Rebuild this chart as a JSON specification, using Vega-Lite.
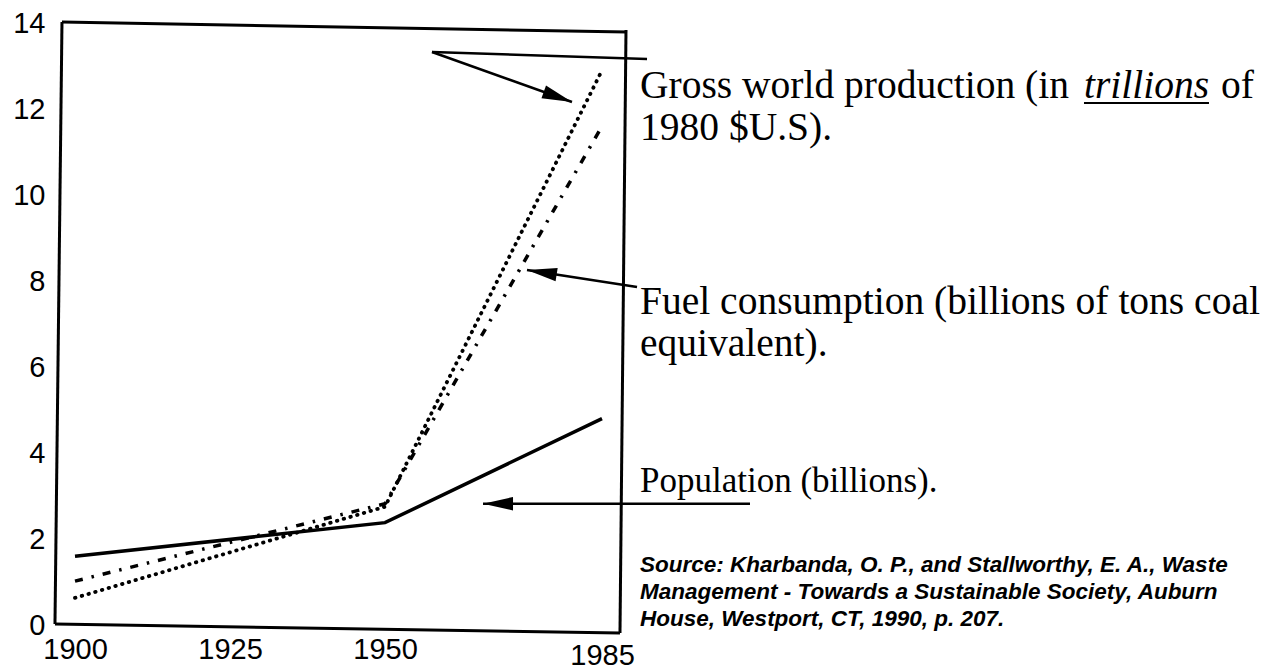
{
  "$schema": "https://vega.github.io/schema/vega-lite/v6.json",
  "width": 565,
  "height": 602,
  "autosize": {"type": "none"},
  "padding": {"left": 55, "top": 23, "right": 655, "bottom": 47},
  "background": "white",
  "config": {
    "view": {"stroke": null},
    "axis": {"grid": false, "domain": false, "ticks": false, "title": null, "labelColor": "black", "labelFont": "Liberation Sans", "labelFontSize": 29, "labelFlush": false, "labelOverlap": false}
  },
  "datasets": {
    "series": [
      {"series": "Population", "year": 1900, "value": 1.6},
      {"series": "Population", "year": 1950, "value": 2.38},
      {"series": "Population", "year": 1985, "value": 4.8},
      {"series": "Fuel", "year": 1900, "value": 1.02},
      {"series": "Fuel", "year": 1950, "value": 2.82},
      {"series": "Fuel", "year": 1985, "value": 11.6},
      {"series": "Gross", "year": 1900, "value": 0.63},
      {"series": "Gross", "year": 1950, "value": 2.75},
      {"series": "Gross", "year": 1985, "value": 12.9}
    ],
    "frame": [
      {"x": 1897.90, "y": 14.023, "x2": 1989.03, "y2": 13.791},
      {"x": 1988.87, "y": 13.837, "x2": 1987.90, "y2": -0.186},
      {"x": 1896.77, "y": 0.023, "x2": 1987.90, "y2": -0.186},
      {"x": 1897.90, "y": 14.023, "x2": 1896.77, "y2": 0.023}
    ],
    "arrows": [
      {"name": "gross_bar", "x": 1957.58, "y": 13.326, "x2": 1992.26, "y2": 13.163},
      {"name": "gross", "x": 1957.58, "y": 13.326, "x2": 1980.16, "y2": 12.163},
      {"name": "fuel", "x": 1990.65, "y": 7.860, "x2": 1972.90, "y2": 8.256},
      {"name": "population", "x": 2008.87, "y": 2.82, "x2": 1965.81, "y2": 2.82}
    ],
    "labels": [
      {"role": "big", "x": 1991.13, "y": 12.256, "text": "Gross world production (in"},
      {"role": "big", "x": 2084.84, "y": 12.256, "text": "of"},
      {"role": "big", "x": 1991.13, "y": 11.28, "text": "1980 $U.S)."},
      {"role": "big", "x": 1991.13, "y": 7.233, "text": "Fuel consumption (billions of tons coal"},
      {"role": "big", "x": 1991.13, "y": 6.256, "text": "equivalent)."},
      {"role": "pop", "x": 1991.13, "y": 3.093, "text": "Population (billions)."},
      {"role": "ital", "x": 2062.74, "y": 12.256, "text": "trillions"},
      {"role": "source", "x": 1991.13, "y": 1.233, "text": "Source: Kharbanda, O. P., and Stallworthy, E. A., Waste"},
      {"role": "source", "x": 1991.13, "y": 0.605, "text": "Management - Towards a Sustainable Society, Auburn"},
      {"role": "source", "x": 1991.13, "y": -0.023, "text": "House, Westport, CT, 1990, p. 207."}
    ],
    "underline": [
      {"x": 2062.74, "y": 12.14, "x2": 2082.9, "y2": 12.14}
    ]
  },
  "layer": [
    {
      "data": {"name": "series"},
      "transform": [{"filter": "datum.series == 'Population'"}],
      "mark": {"type": "line", "color": "black", "strokeWidth": 3.5},
      "encoding": {
        "x": {"field": "year", "type": "quantitative", "scale": {"domain": [1896.774, 1987.903], "nice": false, "zero": false},
          "axis": {"values": [1900, 1925, 1950, 1985], "format": "d", "labelPadding": {"condition": {"test": "datum.value == 1985", "value": 16}, "value": 10}}},
        "y": {"field": "value", "type": "quantitative", "scale": {"domain": [0, 14], "nice": false, "zero": false},
          "axis": {"values": [0, 2, 4, 6, 8, 10, 12, 14], "labelPadding": 10}}
      }
    },
    {
      "data": {"name": "series"},
      "transform": [{"filter": "datum.series == 'Fuel'"}],
      "mark": {"type": "line", "color": "black", "strokeWidth": 3.5, "strokeDash": [8, 9, 2.5, 9]},
      "encoding": {
        "x": {"field": "year", "type": "quantitative", "scale": {"domain": [1896.774, 1987.903], "nice": false, "zero": false}},
        "y": {"field": "value", "type": "quantitative", "scale": {"domain": [0, 14], "nice": false, "zero": false}}
      }
    },
    {
      "data": {"name": "series"},
      "transform": [{"filter": "datum.series == 'Gross'"}],
      "mark": {"type": "line", "color": "black", "strokeWidth": 3.8, "strokeDash": [0.5, 6.5], "strokeCap": "round"},
      "encoding": {
        "x": {"field": "year", "type": "quantitative", "scale": {"domain": [1896.774, 1987.903], "nice": false, "zero": false}},
        "y": {"field": "value", "type": "quantitative", "scale": {"domain": [0, 14], "nice": false, "zero": false}}
      }
    },
    {
      "data": {"name": "frame"},
      "mark": {"type": "rule", "color": "black", "strokeWidth": 3},
      "encoding": {
        "x": {"field": "x", "type": "quantitative", "scale": {"domain": [1896.774, 1987.903], "nice": false, "zero": false}},
        "y": {"field": "y", "type": "quantitative", "scale": {"domain": [0, 14], "nice": false, "zero": false}},
        "x2": {"field": "x2"},
        "y2": {"field": "y2"}
      }
    },
    {
      "data": {"name": "arrows"},
      "mark": {"type": "rule", "color": "black", "strokeWidth": 2.5},
      "encoding": {
        "x": {"field": "x", "type": "quantitative", "scale": {"domain": [1896.774, 1987.903], "nice": false, "zero": false}},
        "y": {"field": "y", "type": "quantitative", "scale": {"domain": [0, 14], "nice": false, "zero": false}},
        "x2": {"field": "x2"},
        "y2": {"field": "y2"}
      }
    },
    {
      "data": {"name": "underline"},
      "mark": {"type": "rule", "color": "black", "strokeWidth": 2},
      "encoding": {
        "x": {"field": "x", "type": "quantitative", "scale": {"domain": [1896.774, 1987.903], "nice": false, "zero": false}},
        "y": {"field": "y", "type": "quantitative", "scale": {"domain": [0, 14], "nice": false, "zero": false}},
        "x2": {"field": "x2"},
        "y2": {"field": "y2"}
      }
    },
    {
      "data": {"name": "arrows"},
      "transform": [{"filter": "datum.name == 'gross'"}],
      "mark": {"type": "point", "shape": "M0,0L-2,-0.45L-2,0.45Z", "size": 900, "filled": true, "color": "black", "opacity": 1, "angle": 19.65},
      "encoding": {
        "x": {"field": "x2", "type": "quantitative", "scale": {"domain": [1896.774, 1987.903], "nice": false, "zero": false}},
        "y": {"field": "y2", "type": "quantitative", "scale": {"domain": [0, 14], "nice": false, "zero": false}}
      }
    },
    {
      "data": {"name": "arrows"},
      "transform": [{"filter": "datum.name == 'fuel'"}],
      "mark": {"type": "point", "shape": "M0,0L-2,-0.45L-2,0.45Z", "size": 900, "filled": true, "color": "black", "opacity": 1, "angle": 188.8},
      "encoding": {
        "x": {"field": "x2", "type": "quantitative", "scale": {"domain": [1896.774, 1987.903], "nice": false, "zero": false}},
        "y": {"field": "y2", "type": "quantitative", "scale": {"domain": [0, 14], "nice": false, "zero": false}}
      }
    },
    {
      "data": {"name": "arrows"},
      "transform": [{"filter": "datum.name == 'population'"}],
      "mark": {"type": "point", "shape": "M0,0L-2,-0.45L-2,0.45Z", "size": 900, "filled": true, "color": "black", "opacity": 1, "angle": 180},
      "encoding": {
        "x": {"field": "x2", "type": "quantitative", "scale": {"domain": [1896.774, 1987.903], "nice": false, "zero": false}},
        "y": {"field": "y2", "type": "quantitative", "scale": {"domain": [0, 14], "nice": false, "zero": false}}
      }
    },
    {
      "data": {"name": "labels"},
      "transform": [{"filter": "datum.role == 'big'"}],
      "mark": {"type": "text", "align": "left", "baseline": "alphabetic", "font": "Liberation Serif", "fontSize": 39.5, "color": "black"},
      "encoding": {
        "x": {"field": "x", "type": "quantitative", "scale": {"domain": [1896.774, 1987.903], "nice": false, "zero": false}},
        "y": {"field": "y", "type": "quantitative", "scale": {"domain": [0, 14], "nice": false, "zero": false}},
        "text": {"field": "text"}
      }
    },
    {
      "data": {"name": "labels"},
      "transform": [{"filter": "datum.role == 'ital'"}],
      "mark": {"type": "text", "align": "left", "baseline": "alphabetic", "font": "Liberation Serif", "fontSize": 39.5, "fontStyle": "italic", "color": "black"},
      "encoding": {
        "x": {"field": "x", "type": "quantitative", "scale": {"domain": [1896.774, 1987.903], "nice": false, "zero": false}},
        "y": {"field": "y", "type": "quantitative", "scale": {"domain": [0, 14], "nice": false, "zero": false}},
        "text": {"field": "text"}
      }
    },
    {
      "data": {"name": "labels"},
      "transform": [{"filter": "datum.role == 'pop'"}],
      "mark": {"type": "text", "align": "left", "baseline": "alphabetic", "font": "Liberation Serif", "fontSize": 35, "color": "black"},
      "encoding": {
        "x": {"field": "x", "type": "quantitative", "scale": {"domain": [1896.774, 1987.903], "nice": false, "zero": false}},
        "y": {"field": "y", "type": "quantitative", "scale": {"domain": [0, 14], "nice": false, "zero": false}},
        "text": {"field": "text"}
      }
    },
    {
      "data": {"name": "labels"},
      "transform": [{"filter": "datum.role == 'source'"}],
      "mark": {"type": "text", "align": "left", "baseline": "alphabetic", "font": "Liberation Sans", "fontSize": 22.5, "fontStyle": "italic", "fontWeight": "bold", "color": "black"},
      "encoding": {
        "x": {"field": "x", "type": "quantitative", "scale": {"domain": [1896.774, 1987.903], "nice": false, "zero": false}},
        "y": {"field": "y", "type": "quantitative", "scale": {"domain": [0, 14], "nice": false, "zero": false}},
        "text": {"field": "text"}
      }
    }
  ]
}
